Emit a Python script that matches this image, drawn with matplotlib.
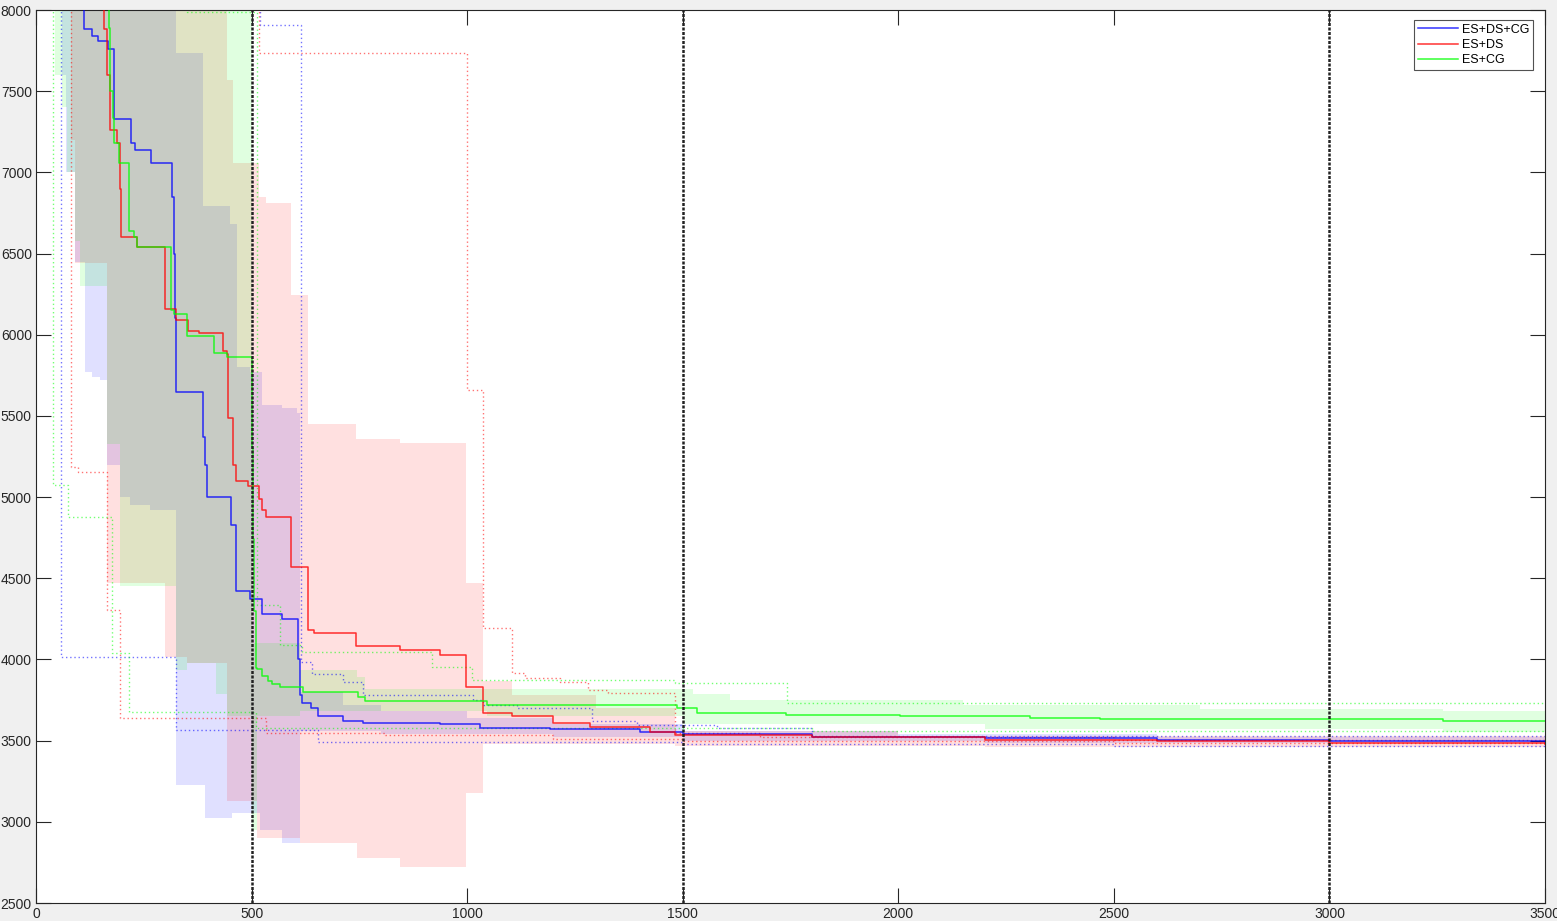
import numpy as np
import matplotlib
matplotlib.use("Agg")
import matplotlib.pyplot as plt

plt.rcParams['font.family'] = ['Liberation Sans', 'DejaVu Sans']

# ---- median curves (step, post) ----
blue_x = [0, 111, 130, 144, 167, 181, 220, 230, 267, 315, 320, 323, 325, 387, 392, 396, 452, 464, 496, 524,
          571, 608, 612, 617, 638, 654, 712, 758, 937, 1030, 1192, 1400, 1500, 1800, 2200, 2600, 3000, 3500]
blue_y = [8400, 7880, 7840, 7810, 7760, 7330, 7180, 7140, 7060, 6850, 6500, 6100, 5650, 5370, 5200, 5000, 4830, 4420, 4370, 4280,
          4250, 4000, 3780, 3730, 3700, 3650, 3620, 3610, 3600, 3580, 3570, 3555, 3540, 3525, 3515, 3505, 3495, 3490]

red_x = [0, 158, 165, 172, 188, 195, 197, 234, 299, 325, 353, 378, 434, 443, 445, 457, 464, 492, 517, 524,
         533, 591, 631, 645, 742, 844, 937, 997, 1037, 1104, 1199, 1285, 1424, 1482, 1800, 2200, 2600, 3000, 3500]
red_y = [8400, 7880, 7600, 7260, 7180, 6900, 6600, 6540, 6160, 6090, 6020, 6010, 5900, 5880, 5490, 5200, 5100, 5070, 4990, 4920,
         4880, 4570, 4180, 4160, 4080, 4060, 4030, 3830, 3670, 3650, 3610, 3585, 3555, 3535, 3520, 3505, 3495, 3485, 3480]

green_x = [0, 169, 172, 179, 181, 193, 216, 227, 234, 313, 320, 350, 413, 443, 501, 504, 506, 510, 513, 524,
           538, 547, 566, 619, 747, 763, 1046, 1487, 1533, 1740, 2004, 2305, 2468, 3263, 3500]
green_y = [8400, 7890, 7500, 7335, 7180, 7060, 6640, 6600, 6540, 6150, 6130, 5990, 5890, 5860, 5300, 4740, 4300, 3950, 3940, 3900,
           3870, 3850, 3830, 3800, 3770, 3745, 3720, 3700, 3670, 3660, 3650, 3640, 3633, 3623, 3623]

# ---- shaded bands ----
blue_band_x = [0, 60, 70, 90, 114, 130, 148, 165, 195, 218, 264, 325, 387, 392, 450, 455, 466, 496, 520, 524,
               571, 605, 612, 712, 800, 1000, 1200, 1500, 2000, 2200, 2600, 3500]
blue_band_hi = [8400, 8400, 8400, 8400, 8400, 8400, 8400, 8400, 8400, 8400, 8400, 7735, 6790, 6790, 6680, 6680, 5800, 5770, 5770, 5570,
                5550, 5520, 3800, 3720, 3680, 3640, 3600, 3560, 3540, 3540, 3525, 3525]
blue_band_lo = [8400, 7600, 7000, 6450, 5770, 5740, 5720, 5200, 5000, 4950, 4920, 3227, 3227, 3023, 3023, 3055, 3055, 3055, 2950, 2950,
                2870, 2870, 3560, 3560, 3540, 3540, 3520, 3500, 3500, 3485, 3485, 3485]

red_band_x = [0, 81, 90, 165, 299, 350, 443, 457, 513, 517, 533, 591, 612, 631, 742, 745, 844, 997, 1037, 1104,
              1300, 1482, 2000, 2200, 3500]
red_band_hi = [8400, 8400, 8400, 8400, 8400, 8400, 7570, 7060, 7060, 6850, 6810, 6245, 6245, 5450, 5358, 5358, 5333, 4470, 3870, 3780,
               3700, 3560, 3530, 3530, 3530]
red_band_lo = [8400, 7200, 6440, 4470, 4015, 3980, 3130, 3130, 2900, 2900, 2900, 2900, 2870, 2870, 2870, 2777, 2722, 3177, 3480, 3480,
               3480, 3470, 3470, 3460, 3460]

green_band_x = [0, 45, 60, 72, 90, 102, 165, 195, 325, 350, 418, 443, 501, 513, 612, 745, 763, 1046, 1500, 1524,
                1610, 2150, 2200, 2700, 3263, 3500]
green_band_hi = [8400, 8400, 8400, 8400, 8400, 8400, 8400, 8400, 8400, 8400, 8400, 8400, 4100, 4100, 3935, 3892, 3820, 3820, 3820, 3787,
                 3750, 3720, 3720, 3695, 3683, 3683]
green_band_lo = [8400, 7600, 7400, 7000, 6580, 6300, 5330, 4450, 3935, 3980, 3790, 3650, 2950, 3650, 3680, 3680, 3680, 3650, 3600, 3600,
                 3600, 3600, 3570, 3570, 3555, 3555]

# ---- dotted min / max ----
blue_min_x = [0, 58, 325, 655, 1500, 2500, 3500]
blue_min_y = [8400, 4015, 3565, 3490, 3480, 3470, 3470]
blue_max_x = [0, 520, 615, 640, 712, 758, 1014, 1037, 1116, 1290, 1394, 1580, 1800, 3500]
blue_max_y = [8400, 7910, 3985, 3910, 3862, 3780, 3750, 3720, 3700, 3620, 3596, 3580, 3530, 3530]

red_min_x = [0, 81, 97, 165, 195, 533, 809, 1200, 1500, 2500, 3500]
red_min_y = [8400, 5185, 5155, 4305, 3640, 3547, 3535, 3510, 3495, 3485, 3485]
red_max_x = [0, 517, 1000, 1037, 1104, 1134, 1215, 1280, 1327, 1482, 1680, 2500, 3500]
red_max_y = [8400, 7735, 5660, 4193, 3917, 3886, 3862, 3812, 3794, 3547, 3522, 3504, 3504]

green_min_x = [0, 39, 74, 176, 216, 510, 1800, 3500]
green_min_y = [8400, 5075, 4878, 4040, 3676, 3578, 3560, 3560]
green_max_x = [0, 350, 513, 566, 617, 918, 1011, 1482, 1742, 3500]
green_max_y = [8400, 7990, 4335, 4090, 4046, 3954, 3874, 3856, 3730, 3730]

stage_x = [500, 1500, 3000]
labels = ['ES+DS+CG', 'ES+DS', 'ES+CG']

fig = plt.figure(figsize=(15.57, 9.21), dpi=100, facecolor='#f0f0f0')
ax = fig.add_axes([36 / 1557, 1 - 903 / 921, 1509 / 1557, 893 / 921])
ax.set_facecolor('white')

bands = [(blue_band_x, blue_band_lo, blue_band_hi, 'blue'),
         (red_band_x, red_band_lo, red_band_hi, 'red'),
         (green_band_x, green_band_lo, green_band_hi, 'lime')]
for bx, lo, hi, c in bands:
    ax.fill_between(bx, lo, hi, step='post', color=c, alpha=0.12, linewidth=0, zorder=1)

dotted = [(blue_min_x, blue_min_y, 'blue'), (blue_max_x, blue_max_y, 'blue'),
          (red_min_x, red_min_y, 'red'), (red_max_x, red_max_y, 'red'),
          (green_min_x, green_min_y, 'lime'), (green_max_x, green_max_y, 'lime')]
for dx, dy, c in dotted:
    ax.plot(dx, dy, drawstyle='steps-post', color=c, lw=1.0, ls=(0, (1, 2)), alpha=0.55, zorder=2)

meds = [(blue_x, blue_y, 'blue'), (red_x, red_y, 'red'), (green_x, green_y, 'lime')]
handles = []
for (mx, my, c), lab in zip(meds, labels):
    h, = ax.plot(mx, my, drawstyle='steps-post', color=c, lw=1.1, alpha=0.8, zorder=3, label=lab)
    handles.append(h)

for sx in stage_x:
    ax.axvline(sx, color='#222222', lw=1.8, ls=(0, (1.2, 0.6)), zorder=4)

ax.set_xlim(0, 3500)
ax.set_ylim(2500, 8000)
ax.set_xticks(np.arange(0, 3501, 500))
ax.set_yticks(np.arange(2500, 8001, 500))
ax.tick_params(direction='in', length=10.8, width=0.8, top=True, right=True,
               labelsize=10, colors='#262626', pad=3)
for s in ax.spines.values():
    s.set_color('#262626')
    s.set_linewidth(0.8)

leg = ax.legend(handles=handles, loc='upper right', bbox_to_anchor=(0.992, 0.9888),
                borderaxespad=0, fontsize=9, frameon=True, fancybox=False, shadow=False,
                handlelength=3.2, handletextpad=0.3, labelspacing=0.25, borderpad=0.3)
leg.get_frame().set_edgecolor('#262626')
leg.get_frame().set_linewidth(0.8)

fig.savefig('out.png', dpi=100, facecolor=fig.get_facecolor())
